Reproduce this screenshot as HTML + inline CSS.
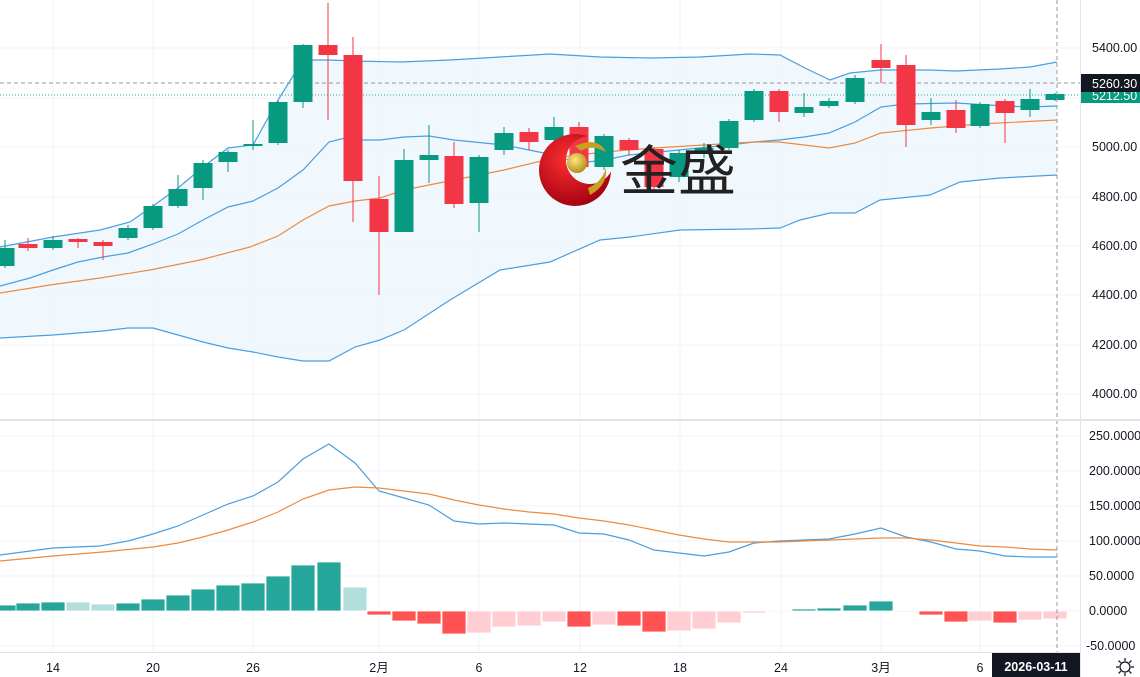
<!DOCTYPE html>
<html><head><meta charset="utf-8"><style>
html,body{margin:0;padding:0;background:#fff;width:1140px;height:677px;overflow:hidden}
svg{display:block}
text{font-family:"Liberation Sans","Noto Sans CJK SC",sans-serif}
</style></head><body>
<svg width="1140" height="677" viewBox="0 0 1140 677" xmlns="http://www.w3.org/2000/svg">
<defs>
<radialGradient id="rg" cx="0.4" cy="0.35" r="0.7"><stop offset="0" stop-color="#ff3030"/><stop offset="1" stop-color="#a00010"/></radialGradient>
<radialGradient id="gg" cx="0.4" cy="0.35" r="0.7"><stop offset="0" stop-color="#ffe680"/><stop offset="1" stop-color="#b08a10"/></radialGradient>
<mask id="cm"><rect x="500" y="100" width="200" height="150" fill="#fff"/><circle cx="590" cy="160" r="24" fill="#000"/></mask>
</defs>
<g stroke="#f0f3fa" stroke-width="1">
<line x1="0" y1="48" x2="1080" y2="48"/><line x1="0" y1="98" x2="1080" y2="98"/><line x1="0" y1="147" x2="1080" y2="147"/><line x1="0" y1="197" x2="1080" y2="197"/><line x1="0" y1="246" x2="1080" y2="246"/><line x1="0" y1="295" x2="1080" y2="295"/><line x1="0" y1="345" x2="1080" y2="345"/><line x1="0" y1="394" x2="1080" y2="394"/>
<line x1="0" y1="436" x2="1080" y2="436"/><line x1="0" y1="471" x2="1080" y2="471"/><line x1="0" y1="506" x2="1080" y2="506"/><line x1="0" y1="541" x2="1080" y2="541"/><line x1="0" y1="576" x2="1080" y2="576"/><line x1="0" y1="611" x2="1080" y2="611"/><line x1="0" y1="646" x2="1080" y2="646"/>
<line x1="53" y1="0" x2="53" y2="652"/><line x1="153" y1="0" x2="153" y2="652"/><line x1="253" y1="0" x2="253" y2="652"/><line x1="379" y1="0" x2="379" y2="652"/><line x1="479" y1="0" x2="479" y2="652"/><line x1="580" y1="0" x2="580" y2="652"/><line x1="680" y1="0" x2="680" y2="652"/><line x1="781" y1="0" x2="781" y2="652"/><line x1="881" y1="0" x2="881" y2="652"/><line x1="980" y1="0" x2="980" y2="652"/>
</g>
<polygon fill="#eef6fd" fill-opacity="0.8" points="0,247 53,237 100,230 130,222 153,206 178,188 203,167 228,148 253,145 278,100 303,60 329,60 355,61 400,62 450,60 500,57 550,54 600,57 650,58 700,57 750,54 780,55 805,68 830,80 850,73 880,70 930,70 956,71 1000,69 1030,67 1057,62 1057,175 1000,178 960,182 930,195 880,200 855,213 830,213 800,220 780,228 750,229 680,230 630,237 600,240 550,262 500,270 450,300 404,330 380,340 355,347 329,361 303,361 278,357 253,352 228,348 203,342 178,335 153,328 128,328 103,331 53,335 0,338"/>
<polyline fill="none" stroke="#4a9fe0" stroke-width="1.2" points="0,247 53,237 100,230 130,222 153,206 178,188 203,167 228,148 253,145 278,100 303,60 329,60 355,61 400,62 450,60 500,57 550,54 600,57 650,58 700,57 750,54 780,55 805,68 830,80 850,73 880,70 930,70 956,71 1000,69 1030,67 1057,62"/>
<polyline fill="none" stroke="#4a9fe0" stroke-width="1.2" points="1057,175 1000,178 960,182 930,195 880,200 855,213 830,213 800,220 780,228 750,229 680,230 630,237 600,240 550,262 500,270 450,300 404,330 380,340 355,347 329,361 303,361 278,357 253,352 228,348 203,342 178,335 153,328 128,328 103,331 53,335 0,338"/>
<polyline fill="none" stroke="#4a9fe0" stroke-width="1.2" points="0,286 30,278 53,270 78,262 103,257 128,253 153,244 178,234 203,220 228,207 253,201 278,188 303,170 329,142 345,138 355,140 380,140 404,137 429,136 454,140 504,145 529,150 554,155 579,163 604,160 629,155 679,150 729,145 754,142 779,140 804,137 829,133 855,122 881,107 906,104 956,103 1005,106 1030,107 1057,106"/>
<polyline fill="none" stroke="#f08a3c" stroke-width="1.2" points="0,293 50,285 100,278 150,270 200,260 250,247 278,236 303,220 329,206 355,201 380,198 404,190 454,180 504,170 554,158 579,155 604,152 654,148 704,145 754,142 779,142 829,148 855,143 881,133 931,128 980,124 1057,120"/>
<line x1="0" y1="83" x2="1080" y2="83" stroke="#9598a1" stroke-dasharray="4,3"/>
<line x1="0" y1="95" x2="1080" y2="95" stroke="#26a69a" stroke-dasharray="1,2"/>
<g id="candles"></g>
<circle cx="575" cy="170" r="36" fill="url(#rg)" mask="url(#cm)"/>
<path d="M575 146 Q598 136 606 152 Q592 144 581 151Z" fill="#c8a020"/>
<path d="M590 195 Q608 185 606 168 Q602 182 588 188Z" fill="#c8a020"/>
<circle cx="577" cy="163" r="10" fill="url(#gg)"/>
<text x="620" y="190" font-size="54" fill="#222" textLength="116" lengthAdjust="spacingAndGlyphs">金盛</text>
<g id="hist"></g>
<polyline fill="none" stroke="#4a9fe0" stroke-width="1.2" points="0,555 53,548 100,546 128,541 153,534 178,526 203,515 228,504 253,496 278,482 303,459 329,444 355,463 379,491 404,498 429,505 454,521 479,524 504,523 529,524 554,525 579,533 604,534 629,540 654,550 679,553 704,556 729,552 754,543 779,541 804,540 829,539 855,534 881,528 906,537 931,542 956,549 980,551 1005,556 1030,557 1057,557"/>
<polyline fill="none" stroke="#f08a3c" stroke-width="1.2" points="0,561 53,556 103,552 153,547 178,543 203,537 228,530 253,522 278,512 303,499 329,490 355,487 379,488 404,491 429,494 454,500 479,505 504,509 529,512 554,514 579,518 604,521 629,525 654,530 679,535 704,539 729,542 754,542 779,542 804,541 829,540 855,539 881,538 906,538 931,540 956,543 980,546 1005,547 1030,549 1057,550"/>
<line x1="1057" y1="0" x2="1057" y2="652" stroke="#9598a1" stroke-dasharray="4,3"/>
<line x1="0" y1="420" x2="1140" y2="420" stroke="#e0e3eb" stroke-width="2"/>
<line x1="1080.5" y1="0" x2="1080.5" y2="677" stroke="#e0e3eb"/>
<line x1="0" y1="652.5" x2="1080" y2="652.5" stroke="#e0e3eb"/>
<g font-size="12.5" fill="#131722">
<text x="1092" y="52">5400.00</text><text x="1092" y="151">5000.00</text><text x="1092" y="201">4800.00</text><text x="1092" y="250">4600.00</text><text x="1092" y="299">4400.00</text><text x="1092" y="349">4200.00</text><text x="1092" y="398">4000.00</text>
<text x="1089" y="440">250.0000</text><text x="1089" y="475">200.0000</text><text x="1089" y="510">150.0000</text><text x="1089" y="545">100.0000</text><text x="1089" y="580">50.0000</text><text x="1089" y="615">0.0000</text><text x="1086" y="650">-50.0000</text>
<text x="53" y="672" text-anchor="middle">14</text><text x="153" y="672" text-anchor="middle">20</text><text x="253" y="672" text-anchor="middle">26</text><text x="379" y="672" text-anchor="middle">2月</text><text x="479" y="672" text-anchor="middle">6</text><text x="580" y="672" text-anchor="middle">12</text><text x="680" y="672" text-anchor="middle">18</text><text x="781" y="672" text-anchor="middle">24</text><text x="881" y="672" text-anchor="middle">3月</text><text x="980" y="672" text-anchor="middle">6</text>
</g>
<rect x="1081" y="88" width="59" height="15" fill="#089981"/>
<text x="1092" y="100" font-size="12.5" fill="#fff">5212.50</text>
<rect x="1081" y="74" width="59" height="18" fill="#131722"/>
<text x="1092" y="88" font-size="12.5" fill="#fff">5260.30</text>
<rect x="992" y="653" width="88" height="24" fill="#131722"/>
<text x="1036" y="671" font-size="12.5" fill="#fff" text-anchor="middle" font-weight="bold">2026-03-11</text>
<g transform="translate(1125,667)" stroke="#131722" stroke-width="1.3" fill="none">
<circle r="5"/>
<line x1="0" y1="-9" x2="0" y2="-6"/><line x1="0" y1="6" x2="0" y2="9"/><line x1="-9" y1="0" x2="-6" y2="0"/><line x1="6" y1="0" x2="9" y2="0"/>
<line x1="-6.4" y1="-6.4" x2="-4.2" y2="-4.2"/><line x1="4.2" y1="4.2" x2="6.4" y2="6.4"/><line x1="-6.4" y1="6.4" x2="-4.2" y2="4.2"/><line x1="4.2" y1="-4.2" x2="6.4" y2="-6.4"/>
</g>
</svg>
<script>
var C=[[5,'g',248,266,240,268],[28,'r',244,248,238,251],[53,'g',240,248,236,250],[78,'r',239,242,238,248],[103,'r',242,246,240,260],[128,'g',228,238,225,240],[153,'g',206,228,204,230],[178,'g',189,206,175,208],[203,'g',163,188,160,200],[228,'g',152,162,150,172],[253,'g',144,146,120,150],[278,'g',102,143,100,145],[303,'g',45,102,44,108],[328,'r',45,55,3,120],[353,'r',55,181,37,222],[379,'r',199,232,176,295],[404,'g',160,232,149,232],[429,'g',155,160,125,183],[454,'r',156,204,142,208],[479,'g',157,203,155,232],[504,'g',133,150,127,155],[529,'r',132,142,128,150],[554,'g',127,140,117,142],[579,'r',127,167,122,172],[604,'g',136,167,134,170],[629,'r',140,150,138,155],[654,'r',149,187,147,190],[679,'g',153,177,150,182],[704,'g',148,153,143,158],[729,'g',121,148,119,150],[754,'g',91,120,89,122],[779,'r',91,112,89,122],[804,'g',107,113,93,117],[829,'g',101,106,98,108],[855,'g',78,102,75,104],[881,'r',60,68,44,83],[906,'r',65,125,55,147],[931,'g',112,120,98,125],[956,'r',110,128,100,133],[980,'g',104,126,102,128],[1005,'r',101,113,99,143],[1030,'g',99,110,89,117],[1055,'g',94,100,93,101]];
var s='';
C.forEach(function(c){var col=c[1]=='g'?'#089981':'#f23645';
s+='<line x1="'+c[0]+'" y1="'+c[4]+'" x2="'+c[0]+'" y2="'+c[5]+'" stroke="'+col+'"/>';
s+='<rect x="'+(c[0]-9.5)+'" y="'+c[2]+'" width="19" height="'+Math.max(2,c[3]-c[2])+'" fill="'+col+'"/>';});
document.getElementById('candles').innerHTML=s;
var H=[[5,'d',605],[28,'d',603],[53,'d',602],[78,'l',602],[103,'l',604],[128,'d',603],[153,'d',599],[178,'d',595],[203,'d',589],[228,'d',585],[253,'d',583],[278,'d',576],[303,'d',565],[329,'d',562],[355,'l',587],[379,'r',615],[404,'r',621],[429,'r',624],[454,'r',634],[479,'p',633],[504,'p',627],[529,'p',626],[554,'p',622],[579,'r',627],[604,'p',625],[629,'r',626],[654,'r',632],[679,'p',631],[704,'p',629],[729,'p',623],[754,'p',613],[779,'p',612],[804,'d',609],[829,'d',608],[855,'d',605],[881,'d',601],[906,'l',612],[931,'r',615],[956,'r',622],[980,'p',621],[1005,'r',623],[1030,'p',620],[1055,'p',619]];
var cm={d:'#26a69a',l:'#b2dfdb',r:'#ff5252',p:'#ffcdd2'};var h='';
H.forEach(function(b){var y1=Math.min(611,b[2]),y2=Math.max(611,b[2]);
h+='<rect x="'+(b[0]-12)+'" y="'+y1+'" width="24" height="'+Math.max(1,y2-y1)+'" fill="'+cm[b[1]]+'" stroke="#fff" stroke-width="0.8"/>';});
document.getElementById('hist').innerHTML=h;
</script>
</body></html>
